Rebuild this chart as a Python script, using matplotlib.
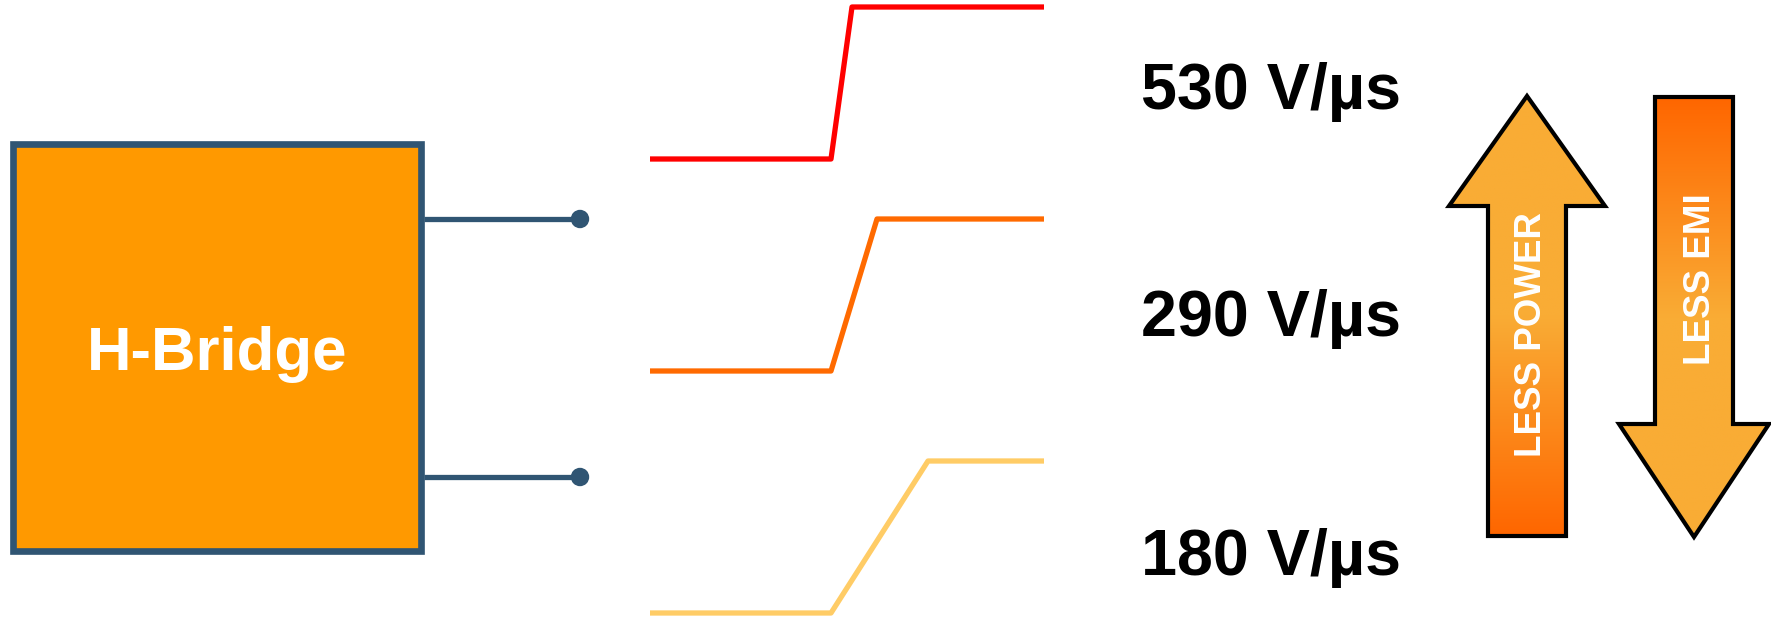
import numpy as np
import matplotlib
matplotlib.use('Agg')
import matplotlib.pyplot as plt
from matplotlib.patches import Polygon, Rectangle, Circle
from matplotlib.colors import LinearSegmentedColormap

# slew-rate edges (pixel coords of the drawing)
rates = ['530 V/µs', '290 V/µs', '180 V/µs']
edge_colors = ['#FF0000', '#FF6A00', '#FFCC66']
edge_x = [[650, 831, 852, 1044],
          [650, 831, 877, 1044],
          [650, 831, 928, 1044]]
edge_y = [[159, 159, 7, 7],
          [371, 371, 219, 219],
          [613, 613, 461, 461]]
label_base = [109, 336, 575]

# h-bridge outputs
wire_y = [219, 477]

# arrows: (label, centre x, tip y, head base y, tail y, shaft half, head half)
arrows = [('LESS POWER', 1527, 96, 206, 536, 39, 78),
          ('LESS EMI', 1694, 537, 424, 97, 39, 75)]
arrow_text = [(1541, 335), (1710, 279)]

W, H = 1771, 617
fig = plt.figure(figsize=(W / 100, H / 100), dpi=100)
ax = fig.add_axes([0, 0, 1, 1])
ax.set_xlim(0, W)
ax.set_ylim(H, 0)
ax.axis('off')

navy = '#305573'
font = ['Liberation Sans', 'DejaVu Sans']

# box
ax.add_patch(Rectangle((13.5, 143.5), 408, 407, facecolor='#FF9900',
                       edgecolor=navy, lw=4.8, zorder=2))
ax.text(217, 370, 'H-Bridge', color='white', fontsize=44.5, fontweight='bold',
        family=font, ha='center', va='baseline', zorder=3)

for y in wire_y:
    ax.plot([424, 580], [y, y], color=navy, lw=3.8, solid_capstyle='butt', zorder=1)
    ax.add_patch(Circle((580, y), 8.5, color=navy, zorder=2))

# edges + labels
for xs, ys, c, lab, yb in zip(edge_x, edge_y, edge_colors, rates, label_base):
    ax.plot(xs, ys, color=c, lw=3.8, solid_joinstyle='round',
            solid_capstyle='butt', zorder=2)
    ax.text(1141, yb, lab, fontsize=46.5, fontweight='bold', family=font,
            ha='left', va='baseline', color='black')

# gradient arrows
light, dark = '#F9AC35', '#FF6600'
cmap = LinearSegmentedColormap.from_list('g', [light, light, dark])
for (lab, cx, tip, hb, tail, sh, hh), (tx, ty) in zip(arrows, arrow_text):
    pts = [(cx, tip), (cx + hh, hb), (cx + sh, hb), (cx + sh, tail),
           (cx - sh, tail), (cx - sh, hb), (cx - hh, hb)]
    poly = Polygon(pts, closed=True, facecolor='none', edgecolor='black',
                   lw=3.0, joinstyle='miter', zorder=4)
    ax.add_patch(poly)
    grad = np.linspace(0, 1, 256).reshape(-1, 1)
    y0, y1 = min(tip, tail), max(tip, tail)
    if tip > tail:
        grad = grad[::-1]
    im = ax.imshow(grad, cmap=cmap, aspect='auto', origin='upper',
                   extent=(cx - hh, cx + hh, y1, y0), zorder=3)
    im.set_clip_path(poly)
    ax.text(tx, ty, lab, rotation=90, rotation_mode='anchor', color='white',
            fontsize=26.5, fontweight='bold', family=font,
            ha='center', va='baseline', zorder=5)

ax.set_xlim(0, W)
ax.set_ylim(H, 0)
fig.savefig('out.png', dpi=100, facecolor='white')
